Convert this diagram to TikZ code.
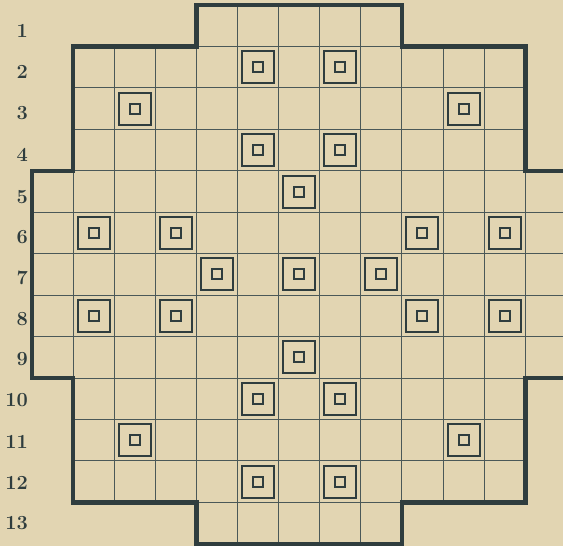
\documentclass[tikz,border=0pt]{standalone}
\definecolor{paper}{HTML}{E2D5B2}
\definecolor{ink}{HTML}{2F3D3E}
\definecolor{thinink}{HTML}{4A5858}
\begin{document}
\begin{tikzpicture}[x=1pt,y=-1pt,
  thinline/.style={draw=thinink, line width=1pt},
  border/.style={draw=ink, line width=4.6pt, line join=miter},
  target/.style={draw=ink, line width=2pt, minimum size=32pt, inner sep=0pt, shape=rectangle,
     path picture={\draw[ink, line width=2pt] ([xshift=-5pt,yshift=-5pt]path picture bounding box.center) rectangle ([xshift=5pt,yshift=5pt]path picture bounding box.center);}},
  rowlabel/.style={anchor=east, inner sep=0pt, text=ink, font=\fontsize{20}{20}\selectfont\bfseries}]
\fill[paper] (0,0) rectangle (563,546);
\useasboundingbox (0,0) rectangle (563,546);
\begin{scope}[shift={(32pt,-5pt)}, x=41.1pt, y=-41.45pt]
  \begin{scope}
    \clip (4,0) -- (9,0) -- (9,1) -- (12,1) -- (12,4) -- (13,4) -- (13,9) -- (12,9) -- (12,12) -- (9,12) -- (9,13) -- (4,13) -- (4,12) -- (1,12) -- (1,9) -- (0,9) -- (0,4) -- (1,4) -- (1,1) -- (4,1) -- cycle;
    \foreach \i in {1,...,12} {
      \draw[thinline] (\i,0) -- (\i,13);
      \draw[thinline] (0,\i) -- (13,\i);
    }
  \end{scope}
  \draw[border] (4,0) -- (9,0) -- (9,1) -- (12,1) -- (12,4) -- (13,4) -- (13,9) -- (12,9) -- (12,12) -- (9,12) -- (9,13) -- (4,13) -- (4,12) -- (1,12) -- (1,9) -- (0,9) -- (0,4) -- (1,4) -- (1,1) -- (4,1) -- cycle;
  \foreach \r/\c in {2/6,2/8,3/3,3/11,4/6,4/8,5/7,6/2,6/4,6/10,6/12,7/5,7/7,7/9,8/2,8/4,8/10,8/12,9/7,10/6,10/8,11/3,11/11,12/6,12/8}
    \node[target] (m\r-\c) at (\c-0.5,\r-0.5) {};
\end{scope}
\node[rowlabel] (l1) at (28,31) {1};
\node[rowlabel] (l2) at (28,71.7) {2};
\node[rowlabel] (l3) at (28,113) {3};
\node[rowlabel] (l4) at (28,154.5) {4};
\node[rowlabel] (l5) at (28,196.7) {5};
\node[rowlabel] (l6) at (28,236.7) {6};
\node[rowlabel] (l7) at (28,278.3) {7};
\node[rowlabel] (l8) at (28,318.7) {8};
\node[rowlabel] (l9) at (28,359) {9};
\node[rowlabel] (l10) at (28,399.7) {10};
\node[rowlabel] (l11) at (28,441.5) {11};
\node[rowlabel] (l12) at (28,482.7) {12};
\node[rowlabel] (l13) at (28,523.3) {13};
\end{tikzpicture}
\end{document}
